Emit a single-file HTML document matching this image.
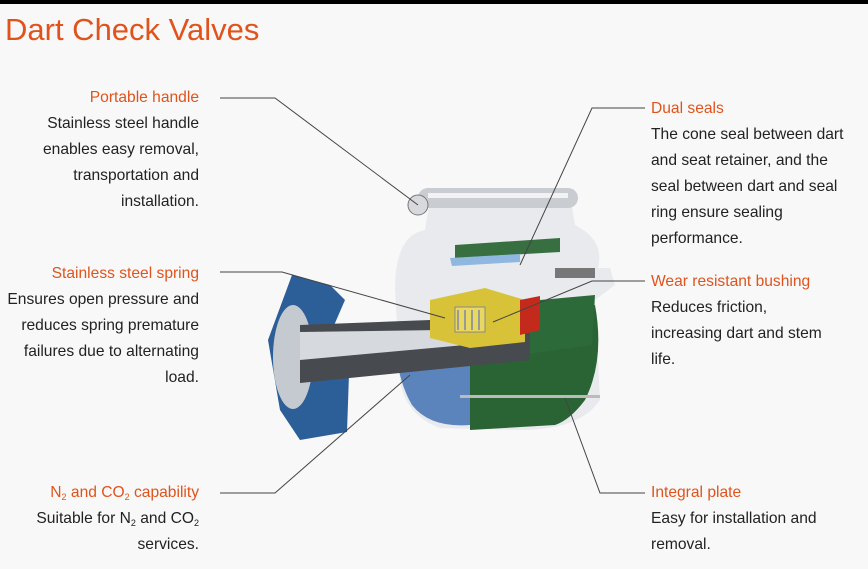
<!DOCTYPE html>
<html><head><meta charset="utf-8"><style>
body{margin:0;width:868px;height:569px;background:#f8f8f8;font-family:"Liberation Sans",sans-serif;position:relative;overflow:hidden}
.bar{position:absolute;left:0;top:0;width:868px;height:4px;background:#000}
h1{position:absolute;left:5px;top:12px;margin:0;font-weight:normal;font-size:31px;color:#e0531c}
.t{position:absolute;font-size:15.6px;line-height:26px;color:#222}
.t .o{color:#e0531c}
.r{text-align:right}
sub{font-size:9px;vertical-align:-3px;line-height:0}
</style></head><body>
<div class="bar"></div>
<h1>Dart Check Valves</h1>
<div class="t r" style="right:669px;top:85px"><span class="o">Portable handle</span><br>Stainless steel handle<br>enables easy removal,<br>transportation and<br>installation.</div>
<div class="t r" style="right:669px;top:261px"><span class="o">Stainless steel spring</span><br>Ensures open pressure and<br>reduces spring premature<br>failures due to alternating<br>load.</div>
<div class="t r" style="right:669px;top:480px"><span class="o">N<sub>2</sub> and CO<sub>2</sub> capability</span><br>Suitable for N<sub>2</sub> and CO<sub>2</sub><br>services.</div>
<div class="t" style="left:651px;top:96px"><span class="o">Dual seals</span><br>The cone seal between dart<br>and seat retainer, and the<br>seal between dart and seal<br>ring ensure sealing<br>performance.</div>
<div class="t" style="left:651px;top:269px"><span class="o">Wear resistant bushing</span><br>Reduces friction,<br>increasing dart and stem<br>life.</div>
<div class="t" style="left:651px;top:480px"><span class="o">Integral plate</span><br>Easy for installation and<br>removal.</div>
<svg width="868" height="569" style="position:absolute;left:0;top:0">
<!-- white body -->
<path d="M395 290 Q395 235 425 230 L430 200 L570 195 L575 225 Q605 240 598 268 L610 268 L615 285 L595 300 L600 400 Q580 430 520 430 L440 428 Q405 415 400 380 Z" fill="#e8eaee"/>
<!-- green cylinder -->
<path d="M470 340 L595 305 Q605 360 585 400 Q570 420 555 425 L470 430 Z" fill="#2a6435"/>
<path d="M540 300 L595 295 L592 345 L520 355 Z" fill="#2d6a3a"/>
<!-- blue body -->
<path d="M395 350 L470 340 L470 425 Q430 428 412 405 Q400 385 395 350 Z" fill="#5b84bd"/>
<!-- blue nut -->
<path d="M292 275 L330 285 L345 300 L332 330 L350 345 L347 432 L300 440 L280 410 L268 340 Z" fill="#2c5e97"/>
<ellipse cx="293" cy="357" rx="20" ry="52" fill="#c5cad0"/>
<!-- flow tube -->
<path d="M300 325 L430 320 L480 300 L530 300 L530 360 L450 368 L300 383 Z" fill="#474a4e"/>
<path d="M300 332 L440 330 L465 345 L300 360 Z" fill="#d6d9dd"/>
<!-- yellow dart -->
<path d="M430 300 L485 288 L525 300 L525 342 L470 348 L430 338 Z" fill="#d8c338"/>
<path d="M455 307 L485 307 L485 332 L455 332 Z" fill="#e8d860" stroke="#888" stroke-width="1"/>
<g stroke="#999" stroke-width="2" fill="none"><path d="M458 310 v20 M465 310 v20 M472 310 v20 M479 310 v20"/></g>
<path d="M520 300 L540 296 L540 330 L520 335 Z" fill="#c42a1c"/>
<!-- top green plate -->
<path d="M455 245 L560 238 L560 252 L455 258 Z" fill="#376f41"/>
<path d="M450 258 L520 254 L520 262 L452 266 Z" fill="#8fb7df"/>
<!-- handle -->
<rect x="418" y="188" width="160" height="20" rx="10" fill="#c9ccd0"/>
<rect x="428" y="193" width="140" height="5" fill="#f2f2f2"/>
<circle cx="418" cy="205" r="10" fill="#d7d9dc" stroke="#777"/>
<rect x="555" y="268" width="40" height="10" fill="#777"/>
<rect x="460" y="395" width="140" height="3" fill="#bbb"/>
<!-- leaders -->
<g stroke="#444" stroke-width="1" fill="none">
<polyline points="220,98 275,98 418,205"/>
<polyline points="645,108 592,108 520,265"/>
<polyline points="220,272 282,272 445,318"/>
<polyline points="645,281 592,281 493,322"/>
<polyline points="220,493 275,493 410,375"/>
<polyline points="645,493 600,493 565,398"/>
</g>
</svg>
</body></html>
